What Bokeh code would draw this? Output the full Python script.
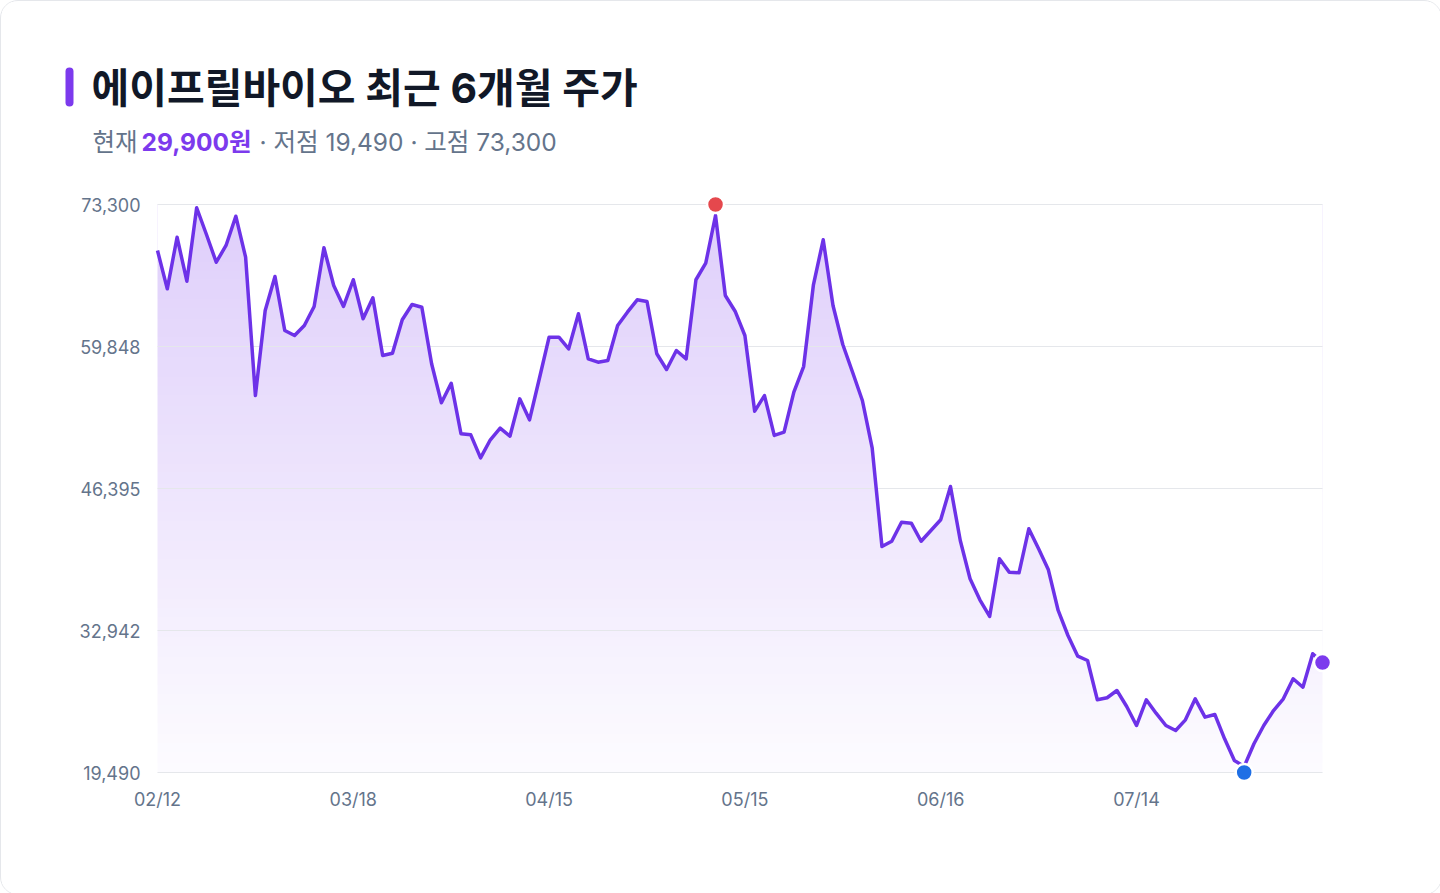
import numpy as np
from bokeh.plotting import figure
from bokeh.layouts import column
from bokeh.models import FixedTicker
from bokeh.core.properties import value
from bokeh.embed import file_html
from bokeh.resources import INLINE

# 에이프릴바이오 종가 (거래일 순, 최근 6개월)
close = [
    68940, 65310, 70200, 66030, 72990, 70460, 67830, 69420, 72190, 68310,
    55200, 63260, 66480, 61360, 60890, 61840, 63640, 69200, 65630, 63640,
    66170, 62470, 64460, 59000, 59210, 62380, 63830, 63570, 58210, 54510,
    56370, 51580, 51480, 49300, 51010, 52110, 51350, 54890, 52900, 56790,
    60730, 60730, 59630, 62950, 58680, 58360, 58520, 61840, 63100, 64270,
    64110, 59160, 57670, 59470, 58680, 66170, 67740, 72260, 64680, 63190,
    60890, 53720, 55200, 51420, 51730, 55520, 57950, 65690, 69960, 63730,
    60040, 57410, 54730, 50250, 40900, 41400, 43200, 43110, 41400, 42420,
    43430, 46580, 41470, 37840, 35850, 34270, 39740, 38470, 38410, 42580,
    40680, 38690, 34840, 32470, 30510, 30100, 26380, 26570, 27260, 25740,
    23940, 26380, 25110, 23940, 23470, 24480, 26470, 24730, 24990, 22680,
    20630, 20060, 22210, 23940, 25360, 26470, 28370, 27570, 30740, 29900,
]
idx = list(range(len(close)))

date_idx = [0, 20, 40, 60, 80, 100]
date_labels = ["02/12", "03/18", "04/15", "05/15", "06/16", "07/14"]

y_ticks = [19490, 32942.5, 46395, 59847.5, 73300]
y_labels = ["19,490", "32,942", "46,395", "59,848", "73,300"]

high_idx, high_price = 57, 73300
low_idx, low_price = 111, 19490
last_idx, last_price = idx[-1], close[-1]

TITLE = "에이프릴바이오 최근 6개월 주가"
SUB_PARTS = ["현재", "29,900원", "· 저점 19,490 · 고점 73,300"]

FONT = "Inter, 'Noto Sans CJK KR', sans-serif"
PURPLE = "#7c3aed"
LINE = "#6d32e8"
GRAY = "#64748b"

# layout in page pixels
W, H = 1440, 893
ORIGIN = 1  # card border
HEAD_H = 160
PAD = 12  # room for the end markers inside the frame
plot_l, plot_r, plot_t, plot_b = 157, 1322, 204, 772
# the column lines up both frames, so the frame starts left of the title
frame_l, frame_r = 40, plot_r + PAD
frame_t, frame_b = plot_t - PAD, plot_b + PAD
border_l = frame_l - ORIGIN
border_r = W - (frame_r - ORIGIN)

# ---- header (title + subtitle), page coordinates ----
head = figure(width=W, height=HEAD_H, x_range=(frame_l, frame_r),
              y_range=(ORIGIN + HEAD_H, ORIGIN),
              output_backend="svg", toolbar_location=None,
              x_axis_location=None, y_axis_location=None,
              min_border_left=border_l, min_border_right=border_r,
              min_border_top=0, min_border_bottom=0)
head.outline_line_color = None
head.grid.visible = False
head.border_fill_color = "white"

head.segment(x0=69, y0=71, x1=69, y1=102, line_color=PURPLE, line_width=8, line_cap="round")
head.text(x=[91], y=[87], text=[TITLE], text_font=value(FONT),
          text_font_size="41px", text_font_style="bold", text_color="#111827",
          text_baseline="middle")
head.text(x=[92], y=[141], text=[SUB_PARTS[0]], text_font=value(FONT),
          text_font_size="24.5px", text_color=GRAY, text_baseline="middle")
head.text(x=[141], y=[141], text=[SUB_PARTS[1]], text_font=value(FONT),
          text_font_size="24.5px", text_font_style="bold", text_color=PURPLE,
          text_baseline="middle")
head.text(x=[259], y=[141], text=[SUB_PARTS[2]], text_font=value(FONT),
          text_font_size="24.5px", text_color=GRAY, text_baseline="middle")

# ---- chart ----
chart_top = ORIGIN + HEAD_H
CH = H - HEAD_H
x_per_px = (idx[-1] - idx[0]) / (plot_r - plot_l)
y_per_px = (y_ticks[-1] - y_ticks[0]) / (plot_b - plot_t)

p = figure(
    width=W,
    height=CH,
    x_range=(idx[0] - (plot_l - frame_l) * x_per_px, idx[-1] + PAD * x_per_px),
    y_range=(y_ticks[0] - PAD * y_per_px, y_ticks[-1] + PAD * y_per_px),
    output_backend="svg",
    toolbar_location=None,
    min_border_left=border_l,
    min_border_right=border_r,
    min_border_top=frame_t - chart_top,
    min_border_bottom=CH - (frame_b - chart_top),
)
p.outline_line_color = None
p.background_fill_color = "white"
p.border_fill_color = "white"
p.grid.visible = False

# gradient fill under the line: image, then white mask above the line
n = 256
alpha = np.linspace(0.02, 0.25, n)
rgba = np.zeros((n, 2, 4), dtype=np.uint8)
rgba[:, :, 0] = 124
rgba[:, :, 1] = 58
rgba[:, :, 2] = 237
rgba[:, :, 3] = (alpha * 255).astype(np.uint8)[:, None]
img = rgba.view(dtype=np.uint32).reshape((n, 2))
p.image_rgba(image=[img], x=idx[0], y=y_ticks[0], dw=idx[-1] - idx[0], dh=y_ticks[-1] - y_ticks[0])
p.varea(x=idx, y1=close, y2=y_ticks[-1] + PAD * y_per_px, fill_color="white")

# grid lines
p.segment(x0=[idx[0]] * len(y_ticks), x1=[idx[-1]] * len(y_ticks), y0=y_ticks, y1=y_ticks,
          line_color="#e5e7eb", line_width=1)

p.line(idx, close, line_color=LINE, line_width=3.5, line_join="round")

p.scatter([high_idx], [high_price], size=17, fill_color="#e5484d", line_color="white", line_width=2.5)
p.scatter([low_idx], [low_price], size=17, fill_color="#1f6fe5", line_color="white", line_width=2.5)
p.scatter([last_idx], [last_price], size=17, fill_color=PURPLE, line_color="white", line_width=2.5)

# axes (y labels sit inside the widened frame, right edge at x=140)
p.xaxis.ticker = FixedTicker(ticks=date_idx)
p.xaxis.major_label_overrides = dict(zip(date_idx, date_labels))
p.xaxis.major_label_standoff = 4
p.yaxis.ticker = FixedTicker(ticks=y_ticks)
p.yaxis.major_label_overrides = dict(zip(y_ticks, y_labels))
p.yaxis.major_label_standoff = frame_l - 140
for ax in (p.xaxis, p.yaxis):
    ax.axis_line_color = None
    ax.major_tick_line_color = None
    ax.minor_tick_line_color = None
    ax.major_tick_out = 0
    ax.major_tick_in = 0
    ax.major_label_text_font = FONT
    ax.major_label_text_font_size = "18px"
    ax.major_label_text_color = GRAY

layout = column(head, p, spacing=0,
                styles={"border": "1px solid #e5e7eb", "border-radius": "18px",
                        "overflow": "hidden"})

open("out.html", "w").write(file_html(layout, INLINE))
